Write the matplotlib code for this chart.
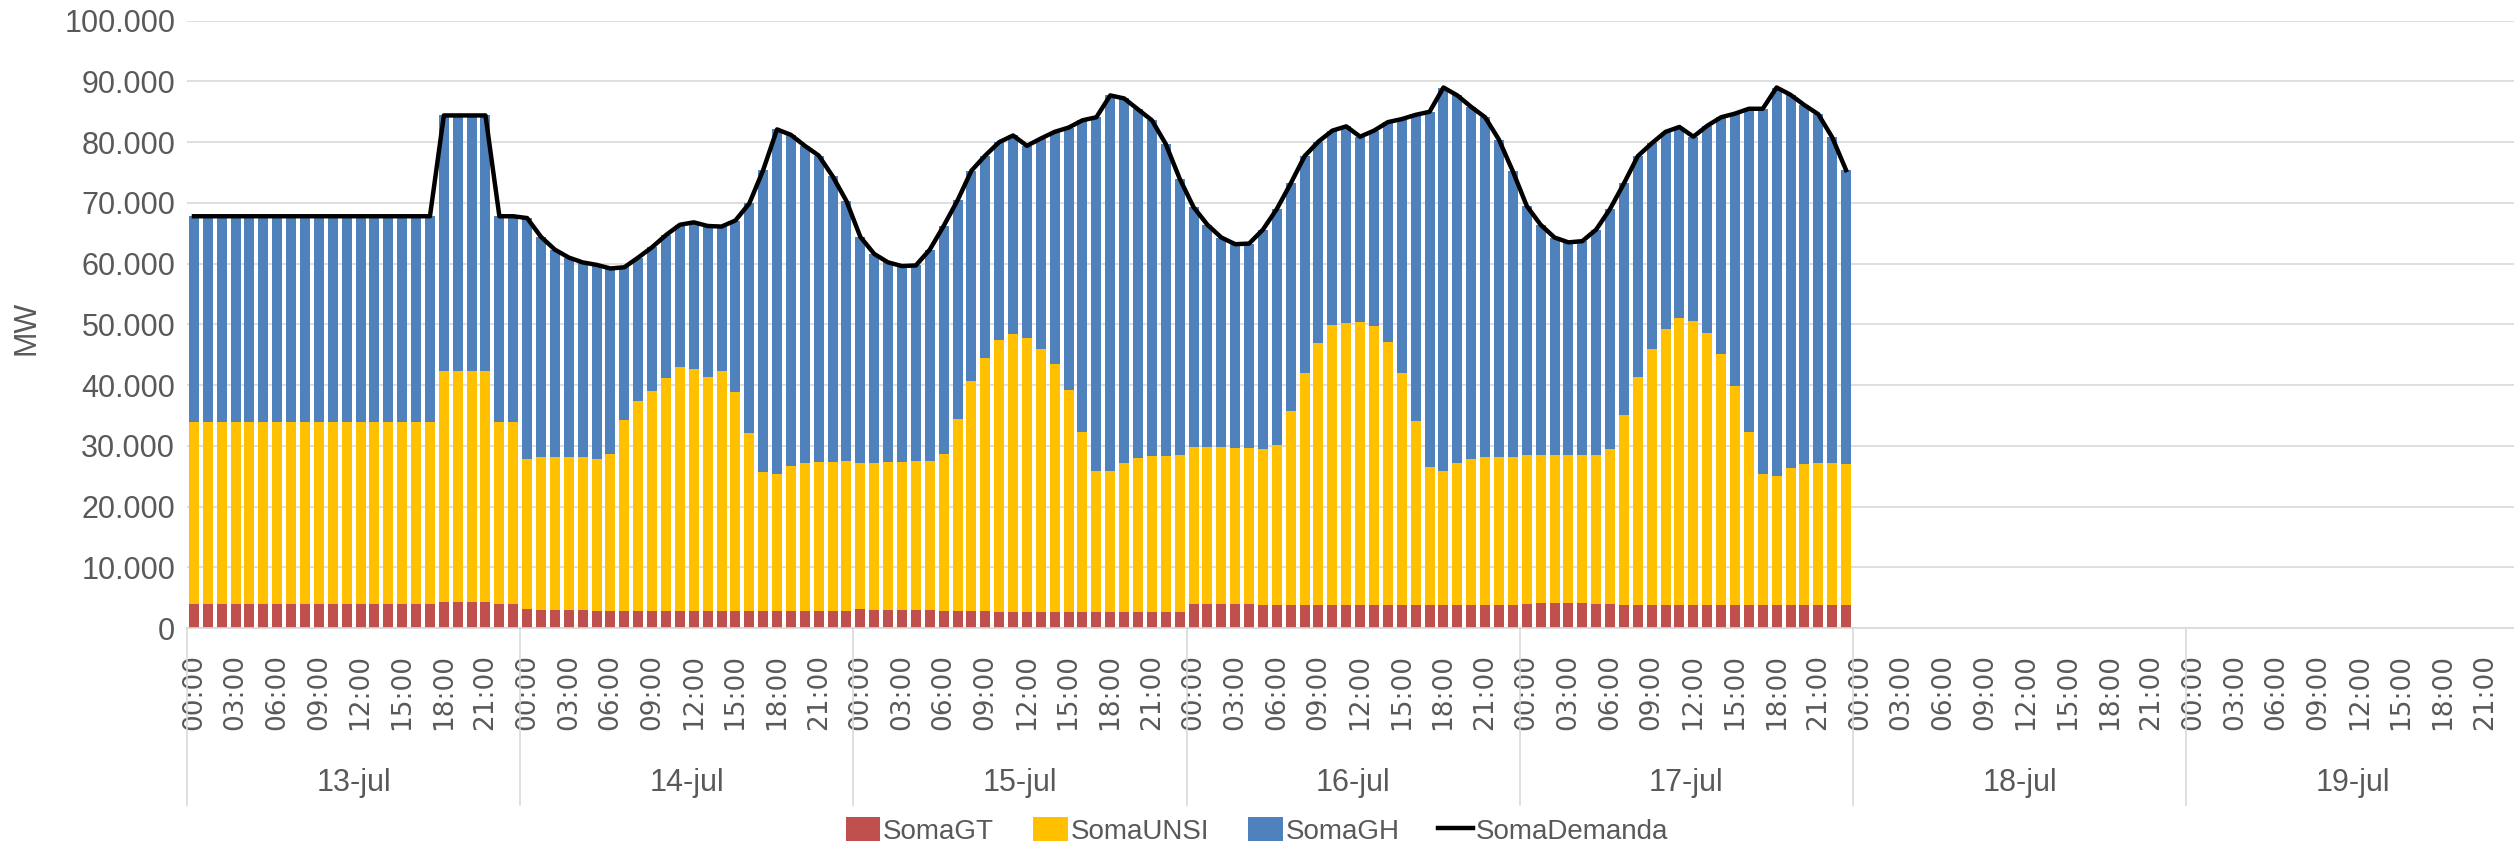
# Generación horaria por fuente (MW) y demanda total, 13 a 19 de julio
import numpy as np
import matplotlib.pyplot as plt
from matplotlib.ticker import FuncFormatter

# Días y horas del eje de categorías
dias = ['13-jul', '14-jul', '15-jul', '16-jul', '17-jul', '18-jul', '19-jul']
horas = ['00:00', '03:00', '06:00', '09:00', '12:00', '15:00', '18:00', '21:00']

# Valores horarios (solo hay datos hasta el 17-jul)
soma_gt = [
    4000, 4000, 4000, 4000, 4000, 4000, 4000, 4000, 4000, 4000, 4000, 4000,
    4000, 4000, 4000, 4000, 4000, 4000, 4300, 4300, 4300, 4300, 4000, 4000,
    3100, 2900, 2900, 2900, 2900, 2800, 2800, 2800, 2800, 2800, 2800, 2800,
    2800, 2800, 2800, 2800, 2800, 2800, 2800, 2800, 2800, 2800, 2800, 2800,
    3100, 2900, 2900, 2900, 2900, 2900, 2800, 2800, 2800, 2800, 2700, 2700,
    2700, 2700, 2700, 2700, 2700, 2700, 2700, 2700, 2700, 2700, 2700, 2700,
    4000, 4000, 3900, 3900, 3900, 3800, 3800, 3800, 3800, 3800, 3800, 3800,
    3800, 3800, 3800, 3800, 3800, 3800, 3800, 3800, 3800, 3800, 3800, 3800,
    3900, 4100, 4100, 4100, 4100, 3900, 3900, 3800, 3800, 3800, 3800, 3800,
    3800, 3800, 3800, 3800, 3800, 3800, 3800, 3800, 3800, 3800, 3800, 3800,
]
soma_unsi = [
    30000, 30000, 30000, 30000, 30000, 30000, 30000, 30000, 30000, 30000, 30000, 30000,
    30000, 30000, 30000, 30000, 30000, 30000, 38100, 38100, 38100, 38100, 30000, 30000,
    24700, 25200, 25200, 25200, 25200, 25000, 25900, 31400, 34500, 36300, 38300, 40100,
    39900, 38500, 39600, 36000, 29300, 22900, 22500, 23900, 24300, 24500, 24500, 24700,
    24000, 24300, 24500, 24500, 24600, 24600, 25800, 31600, 37900, 41700, 44800, 45700,
    45000, 43200, 40700, 36500, 29600, 23200, 23100, 24500, 25300, 25700, 25700, 25800,
    25800, 25800, 25900, 25700, 25700, 25600, 26300, 32000, 38200, 43100, 46100, 46500,
    46600, 45900, 43300, 38200, 30300, 22700, 22000, 23300, 24100, 24300, 24400, 24400,
    24600, 24400, 24400, 24400, 24400, 24600, 25500, 31200, 37500, 42100, 45400, 47300,
    46800, 44800, 41400, 36000, 28500, 21600, 21300, 22500, 23200, 23400, 23400, 23200,
]
soma_gh = [
    33800, 33800, 33800, 33800, 33800, 33800, 33800, 33800, 33800, 33800, 33800, 33800,
    33800, 33800, 33800, 33800, 33800, 33800, 42000, 42000, 42000, 42000, 33800, 33800,
    39700, 36300, 34200, 32900, 32100, 32000, 30500, 25200, 23700, 23600, 23600, 23500,
    24100, 24900, 23700, 28300, 37800, 49700, 56800, 54500, 52300, 50500, 47100, 42800,
    37300, 34400, 32800, 32200, 32200, 34800, 37600, 36000, 34600, 33300, 32500, 32700,
    31700, 34700, 38300, 43200, 51300, 58200, 61900, 60000, 57400, 55200, 51300, 45500,
    39500, 36600, 34500, 33600, 33700, 36200, 38900, 37400, 35700, 33200, 32000, 32300,
    30500, 32200, 36200, 41800, 50400, 58500, 63200, 60600, 57900, 56000, 52200, 47000,
    41000, 37900, 35800, 35000, 35200, 37100, 39600, 38200, 36400, 33900, 32500, 31400,
    30300, 34100, 38900, 44900, 53200, 60100, 63900, 61500, 59100, 57400, 53600, 48400,
]
soma_demanda = [
    67800, 67800, 67800, 67800, 67800, 67800, 67800, 67800, 67800, 67800, 67800, 67800,
    67800, 67800, 67800, 67800, 67800, 67800, 84400, 84400, 84400, 84400, 67800, 67800,
    67500, 64400, 62300, 61000, 60200, 59800, 59200, 59400, 61000, 62700, 64700, 66400,
    66800, 66200, 66100, 67100, 69900, 75400, 82100, 81200, 79400, 77800, 74400, 70300,
    64400, 61600, 60200, 59600, 59700, 62300, 66200, 70400, 75300, 77800, 80000, 81100,
    79400, 80600, 81700, 82400, 83600, 84100, 87700, 87200, 85400, 83600, 79700, 74000,
    69300, 66400, 64300, 63200, 63300, 65600, 69000, 73200, 77700, 80100, 81900, 82600,
    80900, 81900, 83300, 83800, 84500, 85000, 89000, 87700, 85800, 84100, 80400, 75200,
    69500, 66400, 64300, 63500, 63700, 65600, 69000, 73200, 77700, 79800, 81700, 82500,
    80900, 82700, 84100, 84700, 85500, 85500, 89000, 87800, 86100, 84600, 80800, 75400,
]

gris = '#595959'
linea = '#d9d9d9'
n_horas = 24 * len(dias)

fig = plt.figure(figsize=(25.14, 8.47), dpi=100)
ax = fig.add_axes([187 / 2514, 219 / 847, 2332.4 / 2514, 607.3 / 847])

# Barras apiladas
x = np.arange(len(soma_gt))
gt = np.array(soma_gt)
unsi = np.array(soma_unsi)
gh = np.array(soma_gh)
ancho = 0.72
b1 = ax.bar(x, gt, width=ancho, color='#C0504D', label='SomaGT', zorder=2)
b2 = ax.bar(x, unsi, width=ancho, bottom=gt, color='#FFC000', label='SomaUNSI', zorder=2)
b3 = ax.bar(x, gh, width=ancho, bottom=gt + unsi, color='#4F81BD', label='SomaGH', zorder=2)
l1, = ax.plot(x, soma_demanda, color='black', lw=3.2, label='SomaDemanda',
              zorder=3, solid_joinstyle='round')

# Eje Y
ax.set_ylim(0, 100000)
ax.set_yticks(np.arange(0, 100001, 10000))
ax.yaxis.set_major_formatter(FuncFormatter(lambda v, p: f'{v:,.0f}'.replace(',', '.')))
ax.grid(axis='y', color=linea, lw=1.2, zorder=0)
ax.tick_params(axis='y', length=0, pad=8.5, labelsize=22, labelcolor=gris)
for t in ax.get_yticklabels():
    t.set_family('Liberation Sans')

# Eje X: horas cada 3 h y días debajo
ax.set_xlim(-0.5, n_horas - 0.5)
pos = np.arange(0, n_horas, 3)
ax.set_xticks(pos)
ax.set_xticklabels(horas * len(dias), rotation=90, family='DejaVu Sans')
ax.tick_params(axis='x', length=0, pad=19, labelsize=19, labelcolor=gris)

trans = ax.get_xaxis_transform()
for i, d in enumerate(dias):
    ax.text(24 * i + 11.5, -0.2552, d, transform=trans, ha='center', va='center',
            fontsize=22, color=gris, family='Liberation Sans')
for i in range(len(dias) + 1):
    ax.plot([24 * i - 0.5] * 2, [0, -0.292], transform=trans, color=linea,
            lw=1.2, clip_on=False)

for lado in ['top', 'right', 'left']:
    ax.spines[lado].set_visible(False)
ax.spines['bottom'].set_color(linea)
ax.spines['bottom'].set_linewidth(1.2)

fig.text(27 / 2514, 1 - 328 / 847, 'MW', rotation=90, ha='center', va='center',
         fontsize=22, color=gris, family='Liberation Sans')

# Leyenda
fig.legend(handles=[b1, b2, b3, l1], loc='center', bbox_to_anchor=(0.5, 1 - 831 / 847),
           ncol=4, frameon=False, prop={'family': 'Liberation Sans', 'size': 20},
           labelcolor=gris, handlelength=1.25, handleheight=0.9, handletextpad=0.1,
           columnspacing=1.4)

plt.savefig('out.png', dpi=100)
